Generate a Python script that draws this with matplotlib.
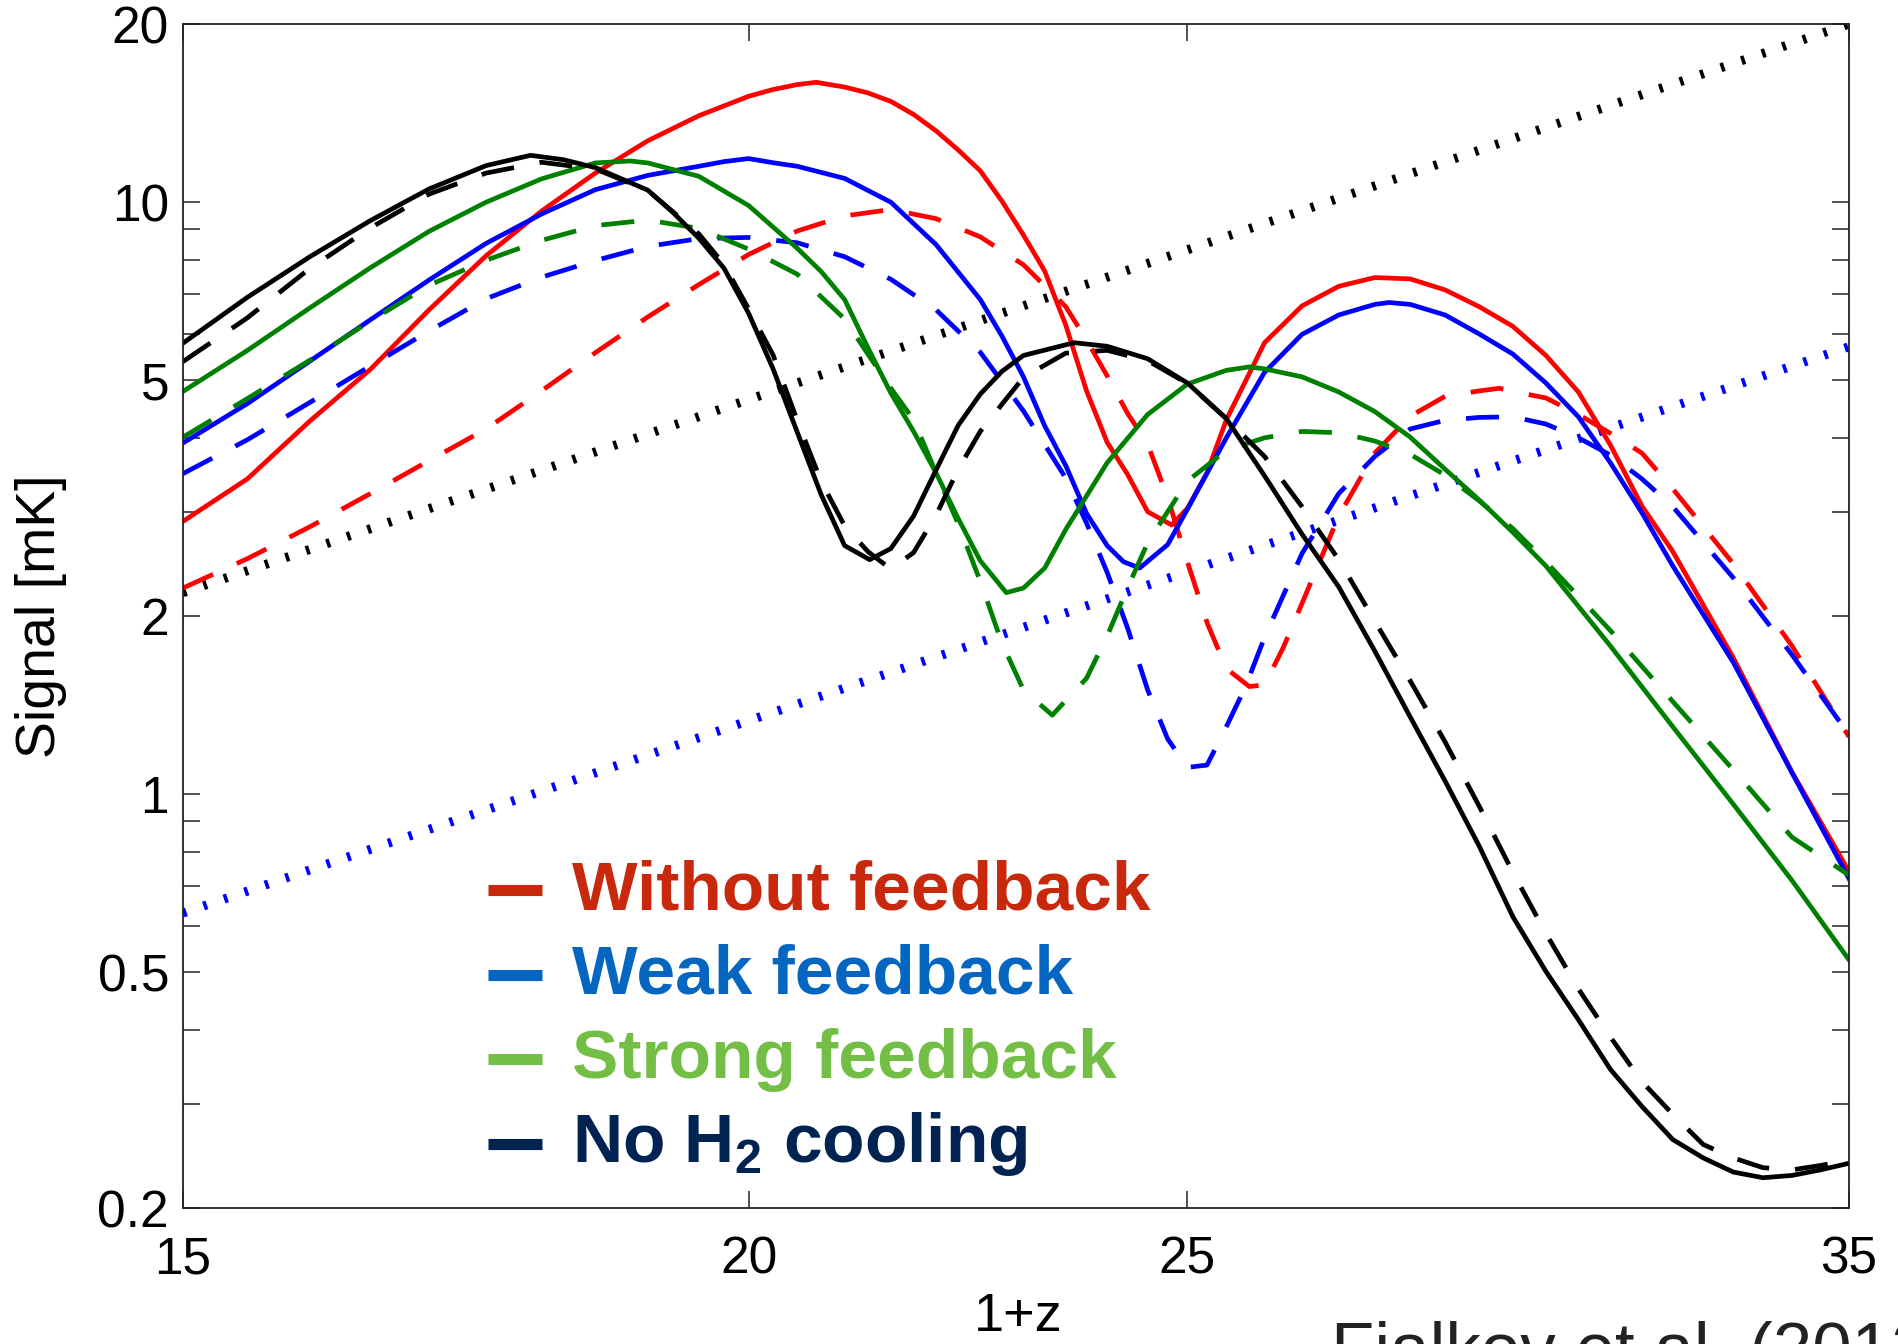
import matplotlib
matplotlib.use("Agg")
from matplotlib import pyplot as plt
from matplotlib.lines import Line2D
from matplotlib.ticker import NullLocator, NullFormatter

plt.rcParams["font.family"] = ["Liberation Sans", "DejaVu Sans"]
plt.rcParams["mathtext.fontset"] = "custom"
plt.rcParams["mathtext.rm"] = "Liberation Sans:bold"
plt.rcParams["mathtext.bf"] = "Liberation Sans:bold"

# --- signal vs 1+z for each feedback model (solid / dashed variants) ---
x_rs = [15, 15.5, 16, 16.5, 17, 17.5, 18, 18.5, 19, 19.5, 20, 20.25, 20.5, 20.7, 21, 21.25, 21.5,
        21.75, 22, 22.25, 22.5, 22.75, 23, 23.25, 23.5, 23.75, 24, 24.25, 24.5, 24.8, 25, 25.25,
        25.5, 26, 26.5, 27, 27.5, 28, 28.5, 29, 29.5, 30, 30.5, 31, 31.5, 32, 33, 34, 35]
y_rs = [2.89, 3.41, 4.27, 5.22, 6.58, 8.12, 9.66, 11.2, 12.7, 14.0, 15.1, 15.5, 15.8, 15.94, 15.65,
        15.3, 14.8, 14.07, 13.2, 12.25, 11.3, 10.04, 8.8, 7.65, 6.2, 4.8, 3.93, 3.47, 3.0, 2.85,
        3.04, 3.49, 4.29, 5.79, 6.68, 7.21, 7.46, 7.42, 7.11, 6.66, 6.17, 5.51, 4.78, 3.89, 3.07,
        2.57, 1.70, 1.09, 0.74]

x_rd = [15, 15.5, 16, 16.5, 17, 17.5, 18, 18.5, 19, 19.5, 20, 20.5, 21, 21.5, 22, 22.5, 23, 23.5,
        23.75, 24, 24.25, 24.5, 24.75, 25, 25.25, 25.5, 25.8, 26, 26.25, 26.5, 26.75, 27, 27.5, 28,
        28.5, 29, 29.3, 29.5, 30, 30.5, 31, 31.5, 32, 33, 34, 35]
y_rd = [2.23, 2.50, 2.83, 3.22, 3.66, 4.14, 4.80, 5.57, 6.40, 7.26, 8.16, 8.94, 9.48, 9.72, 9.38,
        8.74, 7.84, 6.66, 5.85, 5.09, 4.40, 3.90, 3.17, 2.47, 1.95, 1.63, 1.52, 1.53, 1.77, 2.10,
        2.49, 2.95, 3.77, 4.35, 4.70, 4.80, 4.85, 4.79, 4.67, 4.38, 4.07, 3.77, 3.28, 2.45, 1.78,
        1.25]

x_bs = [15, 15.5, 16, 16.5, 17, 17.5, 18, 18.5, 19, 19.5, 19.75, 20, 20.25, 20.5, 21, 21.5, 22,
        22.5, 22.75, 23, 23.25, 23.5, 23.75, 24, 24.2, 24.4, 24.75, 25, 25.5, 26, 26.5, 27, 27.5,
        27.7, 28, 28.5, 29, 29.5, 30, 30.5, 31, 31.5, 32, 33, 34, 35]
y_bs = [3.92, 4.57, 5.39, 6.33, 7.39, 8.52, 9.55, 10.5, 11.1, 11.5, 11.71, 11.85, 11.66, 11.5,
        10.97, 10.0, 8.48, 6.85, 5.94, 5.07, 4.19, 3.59, 2.98, 2.63, 2.47, 2.41, 2.64, 3.03, 4.0,
        5.16, 5.98, 6.45, 6.72, 6.77, 6.72, 6.45, 5.99, 5.54, 4.95, 4.34, 3.63, 2.99, 2.43, 1.67,
        1.087, 0.72]

x_bd = [15, 15.5, 16, 16.5, 17, 17.5, 18, 18.5, 19, 19.5, 20, 20.5, 21, 21.5, 22, 22.5, 23, 23.5,
        23.75, 24, 24.25, 24.5, 24.75, 25, 25.25, 25.5, 25.75, 26, 26.5, 27, 27.5, 28, 28.5, 29,
        29.5, 30, 30.5, 31, 31.5, 32, 33, 34, 35]
y_bd = [3.48, 3.97, 4.59, 5.29, 6.06, 6.87, 7.47, 7.97, 8.42, 8.68, 8.72, 8.54, 8.09, 7.41, 6.58,
        5.58, 4.44, 3.42, 2.87, 2.37, 1.91, 1.50, 1.24, 1.11, 1.12, 1.30, 1.52, 1.84, 2.55, 3.22,
        3.72, 4.14, 4.28, 4.33, 4.34, 4.22, 4.0, 3.74, 3.41, 3.06, 2.32, 1.72, 1.26]

x_gs = [15, 15.5, 16, 16.5, 17, 17.5, 18, 18.5, 18.83, 19, 19.5, 20, 20.5, 20.75, 21, 21.25, 21.5,
        21.75, 22, 22.25, 22.5, 22.8, 23, 23.25, 23.5, 23.75, 24, 24.5, 25, 25.5, 25.8, 26, 26.5,
        27, 27.5, 28, 28.5, 29, 29.5, 30, 31, 32, 33, 34, 35]
y_gs = [4.79, 5.62, 6.63, 7.75, 8.93, 10.0, 10.95, 11.65, 11.74, 11.65, 11.06, 9.87, 8.36, 7.64,
        6.85, 5.68, 4.76, 4.10, 3.49, 2.92, 2.48, 2.19, 2.23, 2.41, 2.80, 3.19, 3.63, 4.38, 4.93,
        5.2, 5.27, 5.23, 5.07, 4.78, 4.43, 4.01, 3.54, 3.14, 2.77, 2.43, 1.78, 1.30, 0.962, 0.715,
        0.525]

x_gd = [15, 15.5, 16, 16.5, 17, 17.5, 18, 18.5, 19, 19.5, 20, 20.5, 21, 21.25, 21.5, 21.75, 22,
        22.25, 22.5, 22.75, 23, 23.34, 23.5, 23.75, 24, 24.25, 24.5, 25, 25.5, 26, 26.5, 27, 27.5,
        28, 28.5, 29, 29.5, 30, 31, 32, 33, 34, 35]
y_gd = [4.01, 4.66, 5.41, 6.30, 7.24, 7.98, 8.62, 9.13, 9.33, 9.03, 8.33, 7.56, 6.35, 5.54, 4.85,
        4.29, 3.49, 2.86, 2.29, 1.80, 1.50, 1.36, 1.44, 1.57, 1.85, 2.23, 2.66, 3.38, 3.81, 4.0,
        4.10, 4.08, 3.95, 3.75, 3.46, 3.13, 2.81, 2.47, 1.89, 1.434, 1.099, 0.846, 0.73]

x_ks = [15, 15.5, 16, 16.5, 17, 17.5, 17.9, 18.2, 18.5, 19, 19.25, 19.5, 19.75, 20, 20.25, 20.5,
        20.75, 21, 21.27, 21.5, 21.75, 22, 22.25, 22.5, 22.75, 23, 23.6, 24, 24.5, 25, 25.5, 26,
        26.5, 27, 27.5, 28, 28.5, 29, 29.5, 30, 30.5, 31, 31.5, 32, 32.5, 33, 33.5, 34, 34.5, 35]
y_ks = [5.78, 6.91, 8.09, 9.31, 10.53, 11.53, 12.0, 11.8, 11.44, 10.48, 9.59, 8.69, 7.74, 6.49,
        5.23, 4.09, 3.21, 2.63, 2.49, 2.60, 2.95, 3.53, 4.20, 4.74, 5.18, 5.51, 5.79, 5.71, 5.44,
        4.95, 4.31, 3.45, 2.75, 2.24, 1.745, 1.35, 1.053, 0.817, 0.621, 0.502, 0.416, 0.343, 0.297,
        0.261, 0.243, 0.230, 0.225, 0.227, 0.232, 0.238]

x_kd = [15, 15.5, 16, 16.5, 17, 17.5, 18, 18.5, 19, 19.5, 19.75, 20, 20.25, 20.5, 20.75, 21, 21.25,
        21.5, 21.75, 22, 22.25, 22.5, 23, 23.5, 24, 24.5, 25, 25.5, 26, 26.5, 27, 27.5, 28, 28.5,
        29, 29.5, 30, 30.5, 31, 31.5, 32, 32.5, 33, 33.5, 34, 34.5, 35]
y_kd = [5.38, 6.38, 7.73, 9.05, 10.32, 11.2, 11.68, 11.38, 10.47, 8.84, 7.85, 6.60, 5.52, 4.28,
        3.38, 2.84, 2.57, 2.40, 2.56, 2.96, 3.54, 4.10, 5.06, 5.56, 5.62, 5.40, 4.94, 4.31, 3.72,
        3.06, 2.49, 1.96, 1.554, 1.226, 0.954, 0.738, 0.582, 0.469, 0.389, 0.327, 0.288, 0.256,
        0.243, 0.234, 0.232, 0.236, 0.241]

# power-law reference lines
x_ref = [15, 35]
y_ref_black = [2.19, 20]
y_ref_blue = [0.63, 5.7]

x_ticks = [15, 20, 25, 35]
y_ticks = [0.2, 0.5, 1, 2, 5, 10, 20]
y_ticklabels = ["0.2", "0.5", "1", "2", "5", "10", "20"]
y_minor = [0.3, 0.4, 0.6, 0.7, 0.8, 0.9, 3, 4, 6, 7, 8, 9]

legend_labels = ["Without feedback", "Weak feedback", "Strong feedback", "No H$_2$ cooling"]
legend_colors = ["#c8290c", "#0566c2", "#73be44", "#002352"]

W, H = 1898, 1344
fig = plt.figure(figsize=(W / 100, H / 100), dpi=100)
ax = fig.add_axes([183 / W, 1 - 1208 / H, 1666 / W, 1184 / H])
ax.set_xscale("log")
ax.set_yscale("log")

# short, wide dashes give the little slanted ticks of the dotted lines
dotted = dict(lw=6.5, ls=(0, (0.4, 2.0)))
ax.plot(x_ref, y_ref_black, color="black", **dotted)
ax.plot(x_ref, y_ref_blue, color="blue", **dotted)

green = (0, 0.5, 0)
curves = [
    (x_rs, y_rs, "red", "-"), (x_rd, y_rd, "red", "--"),
    (x_bs, y_bs, "blue", "-"), (x_bd, y_bd, "blue", "--"),
    (x_gs, y_gs, green, "-"), (x_gd, y_gd, green, "--"),
    (x_ks, y_ks, "black", "-"), (x_kd, y_kd, "black", "--"),
]
for x, y, c, style in curves:
    if style == "-":
        ax.plot(x, y, color=c, lw=3.4, solid_joinstyle="round")
    else:
        ax.plot(x, y, color=c, lw=3.4, ls=(0, (7, 5.5)), dash_joinstyle="round")

ax.set_xlim(15, 35)
ax.set_ylim(0.2, 20)
ax.set_xticks(x_ticks)
ax.set_xticklabels([str(t) for t in x_ticks])
ax.xaxis.set_minor_locator(NullLocator())
ax.set_yticks(y_ticks)
ax.set_yticklabels(y_ticklabels)
ax.set_yticks(y_minor, minor=True)
ax.yaxis.set_minor_formatter(NullFormatter())
ax.tick_params(which="both", direction="in", top=True, right=True, length=12, width=1.1,
               color="#222222")
ax.tick_params(axis="x", labelsize=37, pad=20)
ax.tick_params(axis="y", labelsize=37, pad=10)
for s in ax.spines.values():
    s.set_linewidth(1.3)
    s.set_color("#222222")

# coloured legend, written straight onto the figure
for i, (lab, col) in enumerate(zip(legend_labels, legend_colors)):
    yc = 890 + 84.5 * i
    fig.add_artist(Line2D([488 / W, 542 / W], [1 - yc / H] * 2, lw=8, color=col,
                          solid_capstyle="butt"))
    fig.text(572 / W, 1 - (yc + 19) / H, lab, color=col, fontsize=50, fontweight="bold",
             va="baseline")

fig.text(41 / W, 1 - 616.5 / H, "Signal [mK]", rotation=90, ha="center", va="center",
         fontsize=40)
fig.text(1018 / W, 1 - 1292 / H, "1+z", ha="center", va="top", fontsize=39)
fig.text(1331 / W, 1 - 1321 / H, "Fialkov et al. (2012)", ha="left", va="top", fontsize=51,
         color="#222222")

fig.savefig("out.png", dpi=100)
